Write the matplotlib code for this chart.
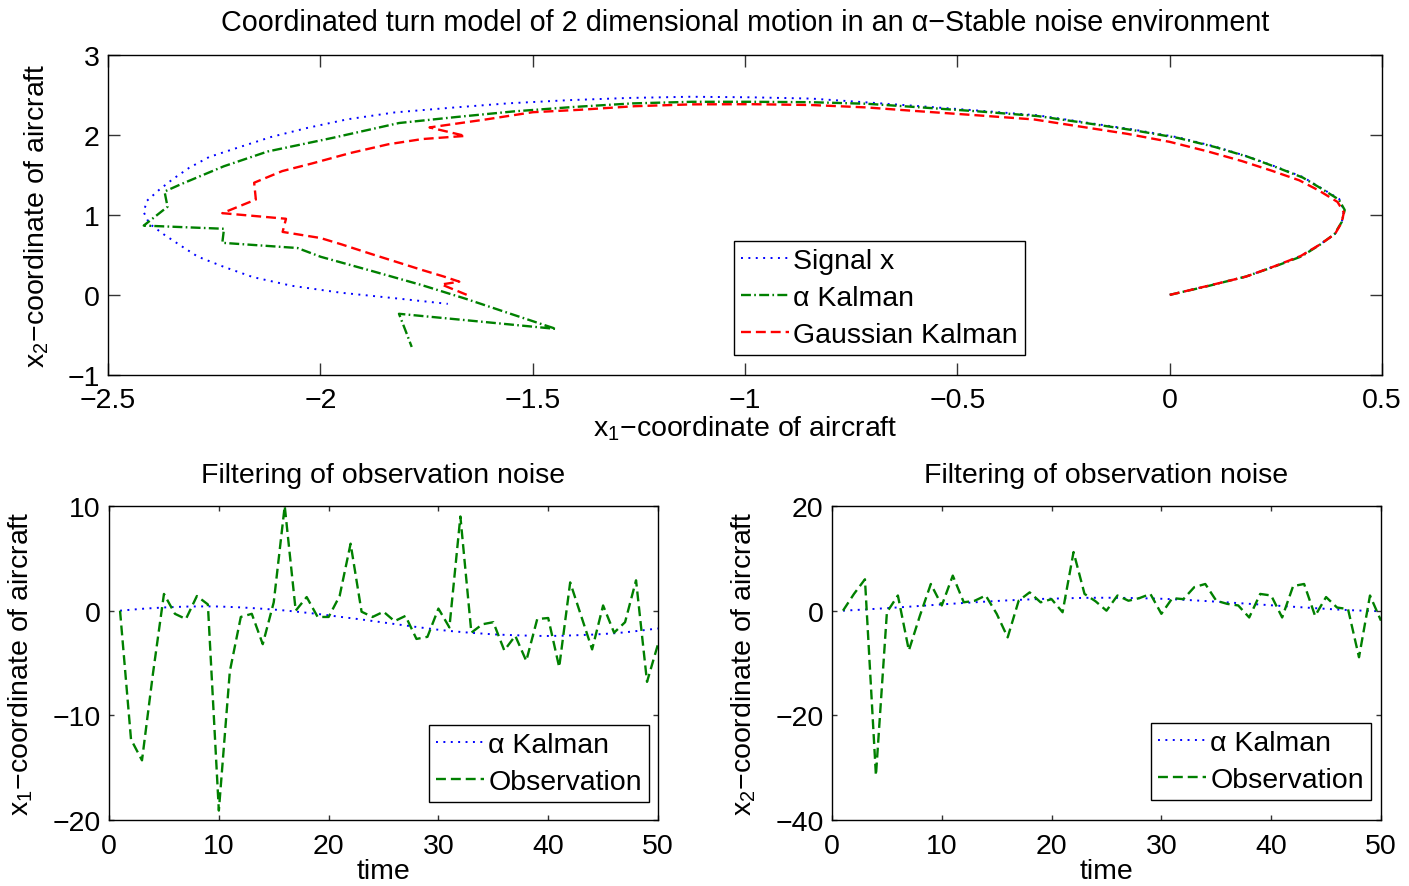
import numpy as np
import matplotlib.pyplot as plt

plt.rcParams['font.family'] = ['Liberation Sans', 'DejaVu Sans']
plt.rcParams['mathtext.default'] = 'regular'
plt.rcParams['font.size'] = 20.5

time = np.arange(1, 51)

# true trajectory (signal x)
signal_x1 = [0.000, 0.090, 0.179, 0.245, 0.308, 0.351, 0.389, 0.405, 0.410, 0.399,
             0.356, 0.313, 0.249, 0.182, 0.106, 0.020, -0.085, -0.198, -0.311, -0.445,
             -0.580, -0.712, -0.844, -0.986, -1.130, -1.274, -1.417, -1.557, -1.692, -1.824,
             -1.937, -2.030, -2.116, -2.189, -2.262, -2.309, -2.347, -2.380, -2.409, -2.416,
             -2.403, -2.368, -2.329, -2.289, -2.227, -2.159, -2.068, -1.952, -1.826, -1.700]
signal_x2 = [0.000, 0.113, 0.227, 0.354, 0.484, 0.620, 0.759, 0.905, 1.051, 1.197,
             1.335, 1.472, 1.601, 1.730, 1.852, 1.966, 2.063, 2.152, 2.241, 2.298,
             2.352, 2.402, 2.450, 2.466, 2.473, 2.458, 2.430, 2.391, 2.336, 2.278,
             2.191, 2.085, 1.971, 1.847, 1.721, 1.586, 1.447, 1.310, 1.172, 1.032,
             0.890, 0.752, 0.615, 0.478, 0.349, 0.222, 0.114, 0.027, -0.041, -0.112]

# alpha-stable Kalman estimate
alpha_x1 = [0.000, 0.090, 0.180, 0.245, 0.310, 0.352, 0.388, 0.405, 0.412, 0.398,
            0.356, 0.313, 0.250, 0.183, 0.107, 0.020, -0.085, -0.198, -0.311, -0.445,
            -0.580, -0.712, -0.845, -0.985, -1.125, -1.265, -1.405, -1.545, -1.680, -1.815,
            -1.971, -2.124, -2.227, -2.329, -2.367, -2.360, -2.416, -2.227, -2.231, -2.054,
            -1.999, -1.880, -1.760, -1.657, -1.550, -1.445, -1.630, -1.815, -1.800, -1.785]
alpha_x2 = [0.000, 0.110, 0.230, 0.350, 0.480, 0.620, 0.760, 0.910, 1.060, 1.190,
            1.330, 1.465, 1.595, 1.725, 1.845, 1.958, 2.055, 2.145, 2.232, 2.288,
            2.338, 2.385, 2.405, 2.410, 2.410, 2.390, 2.345, 2.290, 2.220, 2.145,
            1.960, 1.790, 1.606, 1.380, 1.290, 1.100, 0.865, 0.825, 0.650, 0.585,
            0.475, 0.300, 0.120, -0.050, -0.240, -0.425, -0.330, -0.236, -0.440, -0.650]

# Gaussian Kalman estimate
gauss_x1 = [0.000, 0.090, 0.179, 0.245, 0.308, 0.351, 0.389, 0.405, 0.410, 0.395,
            0.352, 0.305, 0.240, 0.170, 0.090, 0.000, -0.100, -0.210, -0.320, -0.450,
            -0.585, -0.715, -0.845, -0.985, -1.125, -1.260, -1.390, -1.500, -1.610, -1.743,
            -1.659, -1.760, -1.840, -1.930, -2.020, -2.090, -2.156, -2.152, -2.231, -2.081,
            -2.089, -2.000, -1.950, -1.880, -1.820, -1.760, -1.710, -1.673, -1.715, -1.655]
gauss_x2 = [0.000, 0.113, 0.227, 0.354, 0.484, 0.620, 0.759, 0.905, 1.030, 1.160,
            1.300, 1.430, 1.550, 1.670, 1.790, 1.910, 2.010, 2.100, 2.190, 2.240,
            2.290, 2.340, 2.370, 2.380, 2.378, 2.355, 2.310, 2.280, 2.190, 2.090,
            1.984, 1.945, 1.880, 1.770, 1.640, 1.545, 1.400, 1.190, 1.020, 0.950,
            0.786, 0.710, 0.630, 0.510, 0.410, 0.310, 0.230, 0.165, 0.130, 0.000]

# noisy observations
obs_x1 = [0.0, -12.3, -14.3, -6.0, 1.6, -0.3, -0.8, 1.4, 0.6, -19.1,
          -5.8, -0.6, -0.3, -3.2, 0.8, 10.0, 0.0, 1.3, -0.6, -0.6,
          1.4, 6.4, -0.1, -0.6, -0.1, -1.0, -0.5, -2.7, -2.5, 0.2,
          -1.6, 9.0, -2.1, -1.3, -1.1, -3.8, -2.4, -4.8, -0.8, -0.7,
          -5.4, 2.7, -0.5, -3.7, 0.5, -2.1, -1.1, 2.9, -6.8, -3.2]
obs_x2 = [0.0, 3.2, 6.0, -31.5, -0.3, 2.9, -7.6, -1.0, 5.1, 1.0,
          6.7, 1.6, 1.9, 2.9, -0.6, -5.1, 1.9, 3.5, 1.6, 2.2,
          -0.3, 11.2, 3.2, 1.8, 0.0, 2.9, 1.9, 2.4, 3.2, -0.6,
          2.4, 2.2, 4.5, 5.1, 1.9, 1.3, 1.0, -1.3, 3.2, 2.9,
          -1.3, 4.7, 5.1, -1.0, 2.6, 0.6, 0.3, -8.9, 2.9, -1.9]

top_xticks = [-2.5, -2, -1.5, -1, -0.5, 0, 0.5]
top_xlabels = ['\u22122.5', '\u22122', '\u22121.5', '\u22121', '\u22120.5', '0', '0.5']

BLUE = (0, 0, 1)
GREEN = (0, 0.5, 0)
RED = (1, 0, 0)
DOT = (0, (1, 2.8))
DASHDOT = (0, (4.2, 1.4, 0.7, 1.4))
DASH = (0, (4.2, 2.1))


def style(ax, ticklen):
    ax.tick_params(direction='in', length=ticklen, width=1.0, top=True, right=True,
                   color='#333333')
    ax.tick_params(axis='x', pad=9)
    ax.tick_params(axis='y', pad=6)
    for s in ax.spines.values():
        s.set_linewidth(1.0)


def legend(ax, **kw):
    leg = ax.legend(fancybox=False, framealpha=1, edgecolor='black', handlelength=1.7,
                    handletextpad=0.15, labelspacing=0.38, borderpad=0.25,
                    borderaxespad=0, **kw)
    leg.get_frame().set_linewidth(1.0)
    return leg


fig = plt.figure(figsize=(14.09, 8.87), dpi=100)

ax = fig.add_axes([0.0767, 0.5761, 0.9042, 0.3613])
ax.plot(signal_x1, signal_x2, color=BLUE, ls=DOT, lw=1.4, label='Signal x')
ax.plot(alpha_x1, alpha_x2, color=GREEN, ls=DASHDOT, lw=1.7, label='\u03b1 Kalman')
ax.plot(gauss_x1, gauss_x2, color=RED, ls=DASH, lw=1.7, label='Gaussian Kalman')
ax.set_xlim(-2.5, 0.5)
ax.set_ylim(-1, 3)
ax.set_xticks(top_xticks)
ax.set_xticklabels(top_xlabels)
ax.set_yticks(range(-1, 4))
style(ax, 8.5)
ax.set_title('Coordinated turn model of 2 dimensional motion in an \u03b1\u2212Stable noise environment',
             pad=18, fontsize=20.7)
ax.set_xlabel('x$_1$\u2212coordinate of aircraft')
ax.set_ylabel('x$_2$\u2212coordinate of aircraft')
ax.xaxis.set_label_coords(0.5, -0.121)
ax.yaxis.set_label_coords(-0.045, 0.5)
legend(ax, loc='lower left', bbox_to_anchor=(0.491, 0.062))

panels = [
    ([0.0774, 0.0744, 0.3896, 0.354], signal_x1, obs_x1, (-20, 10), range(-20, 11, 10),
     'x$_1$\u2212coordinate of aircraft', (0.984, 0.057)),
    ([0.5905, 0.0744, 0.3896, 0.354], signal_x2, obs_x2, (-40, 20), range(-40, 21, 20),
     'x$_2$\u2212coordinate of aircraft', (0.982, 0.064)),
]
for rect, est, obs, ylim, yticks, ylab, anchor in panels:
    a = fig.add_axes(rect)
    a.plot(time, est, color=BLUE, ls=DOT, lw=1.4, label='\u03b1 Kalman')
    a.plot(time, obs, color=GREEN, ls=DASH, lw=1.7, label='Observation')
    a.set_xlim(0, 50)
    a.set_ylim(*ylim)
    a.set_xticks(range(0, 51, 10))
    a.set_yticks(list(yticks))
    style(a, 3.6)
    a.set_title('Filtering of observation noise', pad=17, fontsize=20.5)
    a.set_xlabel('time')
    a.xaxis.set_label_coords(0.5, -0.12)
    a.set_ylabel(ylab)
    a.yaxis.set_label_coords(-0.134, 0.5)
    legend(a, loc='lower right', bbox_to_anchor=anchor)

fig.savefig('out.png', dpi=100)
